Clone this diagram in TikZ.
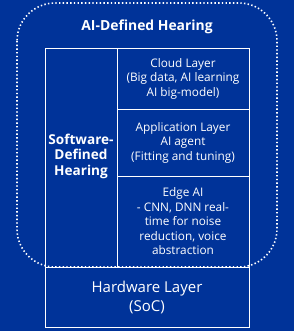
\documentclass[tikz,border=0pt]{standalone}
\usepackage{fontspec}
\setmainfont{Open Sans}
\definecolor{bgblue}{RGB}{0,51,153}
\begin{document}
\begin{tikzpicture}[x=1pt,y=-1pt,
  layer/.style={draw=white,line width=0.9pt,text=white,align=center,inner sep=0pt,
    font=\fontsize{11.8}{14.5}\selectfont},
  boldlabel/.style={text=white,align=center,inner sep=0pt,font=\bfseries\fontsize{13.6}{15.5}\selectfont},
  dotbox/.style={draw=white,line width=1.6pt,dash pattern=on 1.4pt off 2.3pt,rounded corners=38pt}]
\useasboundingbox (0,0) rectangle (294,331);
\fill[bgblue] (0,0) rectangle (294,331);
\node[layer,minimum width=72pt,minimum height=219pt] (soft) at (81,157.5) {};
\node[boldlabel] (softtxt) at (81,156) {Software-\\Defined\\Hearing};
\node[layer,minimum width=132pt,minimum height=61pt] (cloud) at (183,78.5) {Cloud Layer\\(Big data, AI learning\\AI big-model)};
\node[layer,minimum width=132pt,minimum height=67pt] (app) at (183,142.5) {Application Layer\\AI agent\\(Fitting and tuning)};
\node[layer,minimum width=132pt,minimum height=91pt] (edge) at (183,221.5) {Edge AI\\- CNN, DNN real-\\time for noise\\reduction, voice\\abstraction};
\node[layer,minimum width=204pt,minimum height=60pt,font=\fontsize{15}{19}\selectfont] (hw) at (147,297) {Hardware Layer\\(SoC)};
\node[boldlabel,font=\bfseries\fontsize{13.9}{16}\selectfont] (title) at (147,27) {AI-Defined Hearing};
\draw[dotbox] (17,3) rectangle (277,267);
\end{tikzpicture}
\end{document}
